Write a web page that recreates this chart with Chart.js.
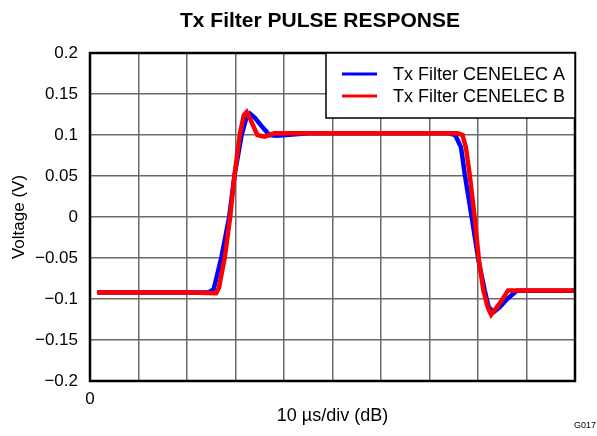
<!DOCTYPE html>
<html>
<head>
<meta charset="utf-8">
<script src="https://cdn.jsdelivr.net/npm/chart.js@4.4.1/dist/chart.umd.min.js"></script>
<style>
html,body{margin:0;padding:0;background:#fff;}
#wrap{width:597px;height:436px;position:relative;}
</style>
</head>
<body>
<div id="wrap"><canvas id="c" width="597" height="436"></canvas></div>
<script>
// Time in divisions (10 µs/div), voltage in V
const seriesA_x = [0.15,1.0,2.0,2.45,2.55,2.71,2.87,2.98,3.13,3.22,3.30,3.40,3.55,3.70,3.85,4.5,5.5,6.5,7.4,7.53,7.65,7.73,7.87,8.01,8.14,8.22,8.32,8.45,8.60,8.80,9.3,10];
const seriesA_y = [-0.092,-0.092,-0.092,-0.092,-0.088,-0.049,0.0,0.051,0.101,0.120,0.126,0.121,0.110,0.100,0.099,0.102,0.102,0.102,0.102,0.100,0.085,0.051,0.0,-0.053,-0.090,-0.110,-0.116,-0.110,-0.100,-0.090,-0.090,-0.090];
const seriesB_x = [0.15,1.0,2.0,2.6,2.66,2.78,2.89,2.98,3.09,3.17,3.23,3.30,3.45,3.60,3.80,4.5,5.5,6.5,7.58,7.68,7.75,7.83,7.93,8.02,8.11,8.20,8.27,8.45,8.62,9.3,10];
const seriesB_y = [-0.092,-0.092,-0.092,-0.093,-0.086,-0.049,0.0,0.051,0.101,0.124,0.128,0.120,0.100,0.098,0.102,0.102,0.102,0.102,0.102,0.100,0.085,0.051,0.0,-0.053,-0.0895,-0.110,-0.119,-0.105,-0.0895,-0.0895,-0.0895];
const seriesNames = ['Tx Filter CENELEC A','Tx Filter CENELEC B'];
const seriesColors = ['#0000ff','#ff0000'];
const yTicks = [-0.2,-0.15,-0.1,-0.05,0,0.05,0.1,0.15,0.2];
const chartTitle = 'Tx Filter PULSE RESPONSE';
const xTitle = '10 \u00b5s/div (dB)';
const yTitle = 'Voltage (V)';
const figId = 'G017';

const toPts = (xs, ys) => xs.map((x,i)=>({x:x,y:ys[i]}));
const fmt = v => { const s = String(Math.round(v*100)/100); return v < 0 ? '\u2212' + s.slice(1) : s; };

const FONT = "'Liberation Sans', Arial, sans-serif";

const framePlugin = {
  id:'frame',
  afterDraw(chart){
    const {ctx, chartArea:a} = chart;
    ctx.save();
    ctx.strokeStyle = '#000';
    ctx.lineWidth = 2.5;
    ctx.strokeRect(a.left, a.top, a.right-a.left, a.bottom-a.top);
    // title
    ctx.fillStyle = '#000';
    ctx.font = 'bold 21px ' + FONT;
    ctx.textAlign = 'center';
    ctx.textBaseline = 'middle';
    ctx.fillText(chartTitle, 320, 21);
    // legend
    const lx = 326, ly = a.top, lw = a.right - 326, lh = 65;
    ctx.fillStyle = '#fff';
    ctx.fillRect(lx, ly, lw, lh);
    ctx.strokeStyle = '#000';
    ctx.lineWidth = 1.5;
    ctx.strokeRect(lx, ly, lw, lh);
    ctx.font = '18px ' + FONT;
    ctx.textBaseline = 'middle';
    ctx.textAlign = 'left';
    const rows = [74, 96];
    chart.data.datasets.forEach((ds,i)=>{
      ctx.strokeStyle = ds.borderColor;
      ctx.lineWidth = 3;
      ctx.beginPath();
      ctx.moveTo(342, rows[i]); ctx.lineTo(377, rows[i]); ctx.stroke();
      ctx.fillStyle = '#000';
      ctx.fillText(ds.label, 393, rows[i]+1);
    });
    ctx.font = '9px ' + FONT;
    ctx.textAlign = 'right';
    ctx.fillText(figId, 596, 426);
    ctx.restore();
  }
};

new Chart(document.getElementById('c'), {
  type:'line',
  data:{
    datasets:[
      {label:seriesNames[0], data:toPts(seriesA_x, seriesA_y), borderColor:seriesColors[0], backgroundColor:seriesColors[0], borderWidth:4.5, pointRadius:0, tension:0, order:1},
      {label:seriesNames[1], data:toPts(seriesB_x, seriesB_y), borderColor:seriesColors[1], backgroundColor:seriesColors[1], borderWidth:4.5, pointRadius:0, tension:0, order:0}
    ]
  },
  options:{
    responsive:false,
    animation:false,
    devicePixelRatio:1,
    layout:{padding:{left:0,right:22,top:53,bottom:0}},
    plugins:{
      legend:{display:false},
      tooltip:{enabled:false},
      title:{display:false}
    },
    scales:{
      x:{
        type:'linear', min:0, max:10,
        afterBuildTicks(s){ s.ticks = [0,1,2,3,4,5,6,7,8,9,10].map(v=>({value:v})); },
        afterFit(s){ s.height = 55; },
        ticks:{color:'#000',font:{family:FONT,size:17},padding:8,maxRotation:0,autoSkip:false,callback:v=> v===0 ? '0' : ''},
        grid:{color:'#6a6a6a',lineWidth:1.5,drawTicks:false},
        border:{display:false},
        title:{display:true,text:xTitle,color:'#000',font:{family:FONT,size:18},padding:{top:0,bottom:9}}
      },
      y:{
        type:'linear', min:-0.2, max:0.2,
        afterBuildTicks(s){ s.ticks = yTicks.map(v=>({value:v})); },
        afterFit(s){ s.width = 90; },
        ticks:{color:'#000',font:{family:FONT,size:17},padding:12,callback:v=>fmt(v)},
        grid:{color:'#6a6a6a',lineWidth:1.5,drawTicks:false},
        border:{display:false},
        title:{display:true,text:yTitle,color:'#000',font:{family:FONT,size:17},padding:{top:9,bottom:0}}
      }
    }
  },
  plugins:[framePlugin]
});
</script>
</body>
</html>
